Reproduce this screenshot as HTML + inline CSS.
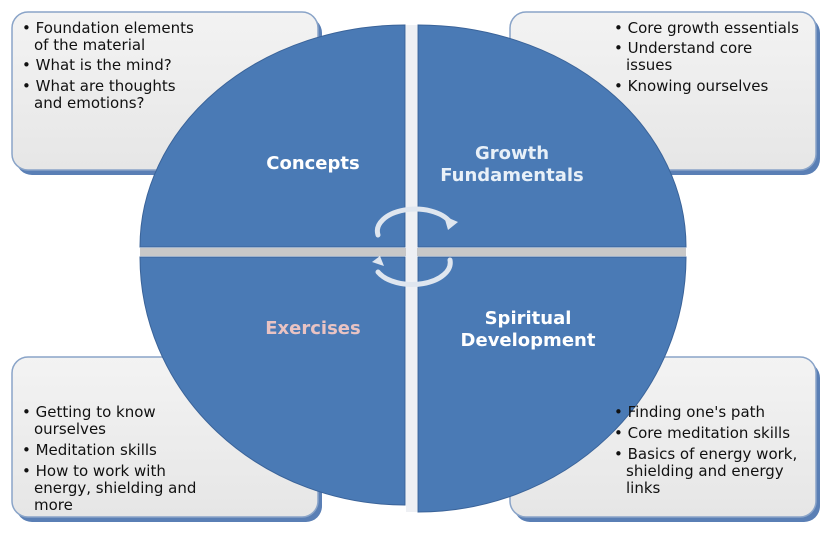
<!DOCTYPE html>
<html><head><meta charset="utf-8"><style>
body{margin:0;background:#fff;}
svg{display:block;font-family:"DejaVu Sans","Liberation Sans",sans-serif;}
</style></head><body>
<svg width="831" height="536" viewBox="0 0 831 536">
<defs>
<linearGradient id="bx" x1="0" y1="0" x2="0" y2="1"><stop offset="0" stop-color="#f3f3f3"/><stop offset="1" stop-color="#e6e6e6"/></linearGradient>
</defs>
<g stroke="#8aa4c8" stroke-width="1.5" fill="url(#bx)">
<rect x="14" y="14" width="306" height="158" rx="16" fill="#5a7fb5" stroke="none" transform="translate(2,3)"/>
<rect x="12" y="12" width="306" height="158" rx="16"/>
<rect x="512" y="14" width="306" height="158" rx="16" fill="#5a7fb5" stroke="none" transform="translate(2,3)"/>
<rect x="510" y="12" width="306" height="158" rx="16"/>
<rect x="14" y="359" width="306" height="160" rx="16" fill="#5a7fb5" stroke="none" transform="translate(2,3)"/>
<rect x="12" y="357" width="306" height="160" rx="16"/>
<rect x="512" y="359" width="306" height="160" rx="16" fill="#5a7fb5" stroke="none" transform="translate(2,3)"/>
<rect x="510" y="357" width="306" height="160" rx="16"/>
</g>
<g fill="#4a7ab5" stroke="#3a6399" stroke-width="1">
<path d="M405,247 L140,247 A265,222 0 0 1 405,25 Z"/>
<path d="M418,247 L418,25 A268,222 0 0 1 686,247 Z"/>
<path d="M405,257 L405,505 A265,248 0 0 1 140,257 Z"/>
<path d="M418,257 L686,257 A268,255 0 0 1 418,512 Z"/>
</g>
<rect x="140" y="248" width="546" height="8" fill="#c8c8c8"/>
<rect x="406" y="25" width="11" height="487" fill="#eef0f4"/>
<g fill="none" stroke="#dfe6ef" stroke-width="5" stroke-linecap="round">
<path d="M378,235 A38,22 0 0 1 450,222"/>
<path d="M450,260 A38,22 0 0 1 378,272"/>
</g>
<path d="M444,216 L458,222 L448,230 Z" fill="#dfe6ef"/>
<path d="M384,266 L372,262 L380,256 Z" fill="#dfe6ef"/>
<g font-weight="bold" font-size="18" text-anchor="middle">
<text x="313" y="169" fill="#fff">Concepts</text>
<text x="512" y="159" fill="#e8f0f8">Growth</text>
<text x="512" y="181" fill="#e8f0f8">Fundamentals</text>
<text x="313" y="334" fill="#e9c3c3">Exercises</text>
<text x="528" y="324" fill="#fff">Spiritual</text>
<text x="528" y="346" fill="#fff">Development</text>
</g>
<g font-size="15" fill="#111">
<text x="22" y="33">• Foundation elements</text>
<text x="34" y="50">of the material</text>
<text x="22" y="70">• What is the mind?</text>
<text x="22" y="91">• What are thoughts</text>
<text x="34" y="108">and emotions?</text>
<text x="614" y="33">• Core growth essentials</text>
<text x="614" y="53">• Understand core</text>
<text x="626" y="70">issues</text>
<text x="614" y="91">• Knowing ourselves</text>
<text x="22" y="417">• Getting to know</text>
<text x="34" y="434">ourselves</text>
<text x="22" y="455">• Meditation skills</text>
<text x="22" y="476">• How to work with</text>
<text x="34" y="493">energy, shielding and</text>
<text x="34" y="510">more</text>
<text x="614" y="417">• Finding one's path</text>
<text x="614" y="438">• Core meditation skills</text>
<text x="614" y="459">• Basics of energy work,</text>
<text x="626" y="476">shielding and energy</text>
<text x="626" y="493">links</text>
</g>
</svg>
</body></html>
